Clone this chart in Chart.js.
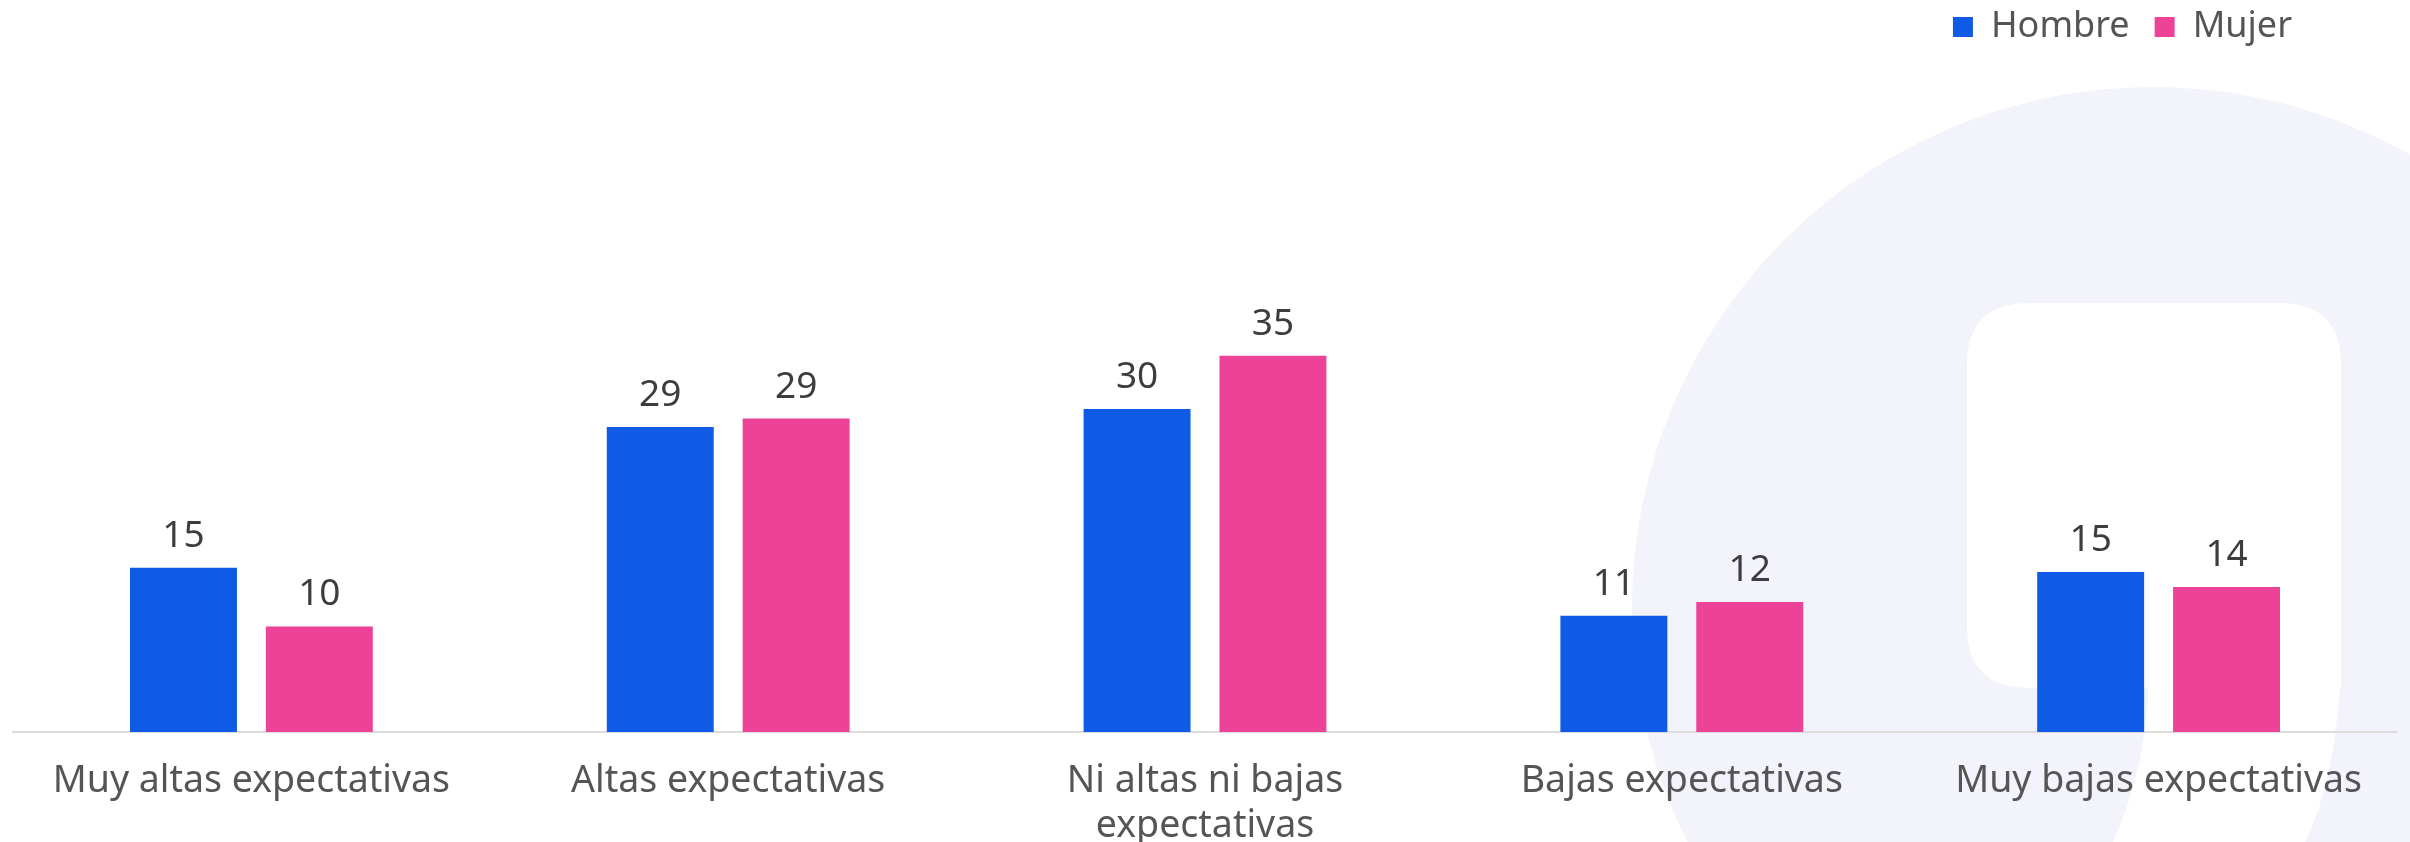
<!DOCTYPE html>
<html>
<head>
<meta charset="utf-8">
<script src="https://cdn.jsdelivr.net/npm/chart.js@4.4.0/dist/chart.umd.min.js"></script>
<style>
  html, body { margin: 0; padding: 0; background: #ffffff; }
  #wrap { width: 2410px; height: 842px; position: relative; }
</style>
</head>
<body>
<div id="wrap"><canvas id="c" width="2410" height="842"></canvas></div>
<script>
const categories = [
  "Muy altas expectativas",
  "Altas expectativas",
  ["Ni altas ni bajas", "expectativas"],
  "Bajas expectativas",
  "Muy bajas expectativas"
];
const seriesNames = ["Hombre", "Mujer"];
const hombre = [15.4, 28.6, 30.3, 10.9, 15.0];
const mujer  = [9.9, 29.4, 35.3, 12.2, 13.6];
const seriesColors = ["#0F5BE5", "#EC4398"];
const yMax = 62;

const FONT = "'Noto Sans', 'DejaVu Sans', sans-serif";

// decorative watermark behind the chart
const watermark = {
  id: 'watermark',
  beforeDraw(chart) {
    const ctx = chart.ctx;
    ctx.save();
    ctx.fillStyle = '#f2f3fb';
    ctx.beginPath();
    ctx.arc(2153, 608, 521, 0, Math.PI * 2);
    ctx.fill();
    ctx.fillStyle = '#ffffff';
    ctx.beginPath();
    const x0 = 1967, y0 = 303, x1 = 2341, y1 = 688, r = 62;
    ctx.moveTo(x0 + r, y0);
    ctx.lineTo(x1 - r, y0);
    ctx.quadraticCurveTo(x1, y0, x1, y0 + r);
    ctx.lineTo(x1, y1);
    ctx.lineTo(x0 + r, y1);
    ctx.quadraticCurveTo(x0, y1, x0, y1 - r);
    ctx.lineTo(x0, y0 + r);
    ctx.quadraticCurveTo(x0, y0, x0 + r, y0);
    ctx.closePath();
    ctx.fill();
    ctx.beginPath();
    ctx.moveTo(2148, 670);
    ctx.lineTo(2341, 670);
    ctx.quadraticCurveTo(2336, 780, 2305, 842);
    ctx.lineTo(2113, 842);
    ctx.quadraticCurveTo(2150, 760, 2148, 670);
    ctx.closePath();
    ctx.fill();
    ctx.restore();
  }
};

// value labels above bars
const valueLabels = {
  id: 'valueLabels',
  afterDatasetsDraw(chart) {
    const ctx = chart.ctx;
    ctx.save();
    ctx.font = "37px " + FONT;
    ctx.fillStyle = '#3d3d3d';
    ctx.textAlign = 'center';
    ctx.textBaseline = 'alphabetic';
    chart.data.datasets.forEach((ds, i) => {
      const meta = chart.getDatasetMeta(i);
      meta.data.forEach((bar, j) => {
        ctx.fillText(String(Math.round(ds.data[j])), bar.x, bar.y - 21);
      });
    });
    ctx.restore();
  }
};

// move the legend block to match the reference placement
const legendShift = {
  id: 'legendShift',
  afterLayout(chart) {
    const lg = chart.legend;
    if (!lg) return;
    lg.top -= 16;
    lg.bottom -= 16;
    lg.right -= 80;
  }
};

function draw() {
  new Chart(document.getElementById('c'), {
    type: 'bar',
    data: {
      labels: categories,
      datasets: [
        { label: seriesNames[0], data: hombre, backgroundColor: seriesColors[0], borderWidth: 0 },
        { label: seriesNames[1], data: mujer, backgroundColor: seriesColors[1], borderWidth: 0 }
      ]
    },
    options: {
      responsive: false,
      devicePixelRatio: 1,
      animation: false,
      layout: { padding: { left: 13, right: 13, top: 0, bottom: -26 } },
      datasets: { bar: { categoryPercentage: 0.570, barPercentage: 0.787 } },
      plugins: {
        legend: {
          position: 'top',
          align: 'end',
          labels: {
            boxWidth: 20,
            boxHeight: 20,
            padding: 25,
            color: '#555555',
            font: { family: FONT, size: 36 }
          }
        },
        tooltip: { enabled: false },
        title: { display: false }
      },
      scales: {
        x: {
          grid: { display: false },
          border: { display: true, color: '#dcdcdc', width: 2 },
          ticks: {
            color: '#555555',
            padding: 19,
            maxRotation: 0,
            autoSkip: false,
            font: { family: FONT, size: 37.5 }
          }
        },
        y: {
          display: false,
          min: 0,
          max: yMax
        }
      }
    },
    plugins: [watermark, valueLabels, legendShift]
  });
}

if (document.fonts && document.fonts.load) {
  document.fonts.load("36px 'Noto Sans'").then(draw, draw);
} else {
  draw();
}
</script>
</body>
</html>
